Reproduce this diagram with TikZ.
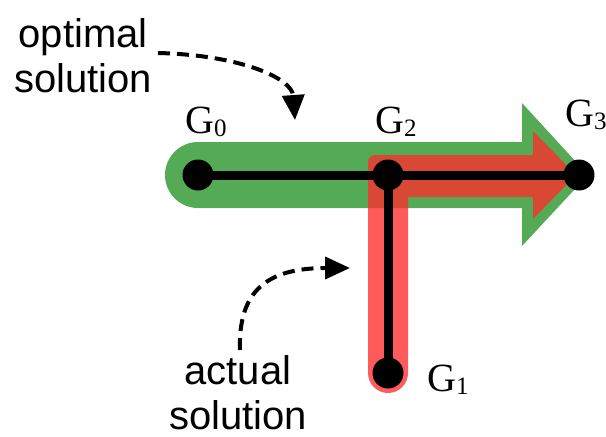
\documentclass[tikz,border=0pt]{standalone}
\usepackage{fontspec}
\setmainfont{Liberation Serif}
\newfontfamily\labelsans{Liberation Sans}
\usetikzlibrary{arrows.meta}
\definecolor{bandgreen}{RGB}{85,170,85}
\definecolor{bandred}{RGB}{255,45,45}
\tikzset{
  dotnode/.style={circle,fill=black,inner sep=0pt,minimum size=31pt},
  pathline/.style={line width=9pt,black},
  glabel/.style={inner sep=0pt,font=\fontsize{40}{42}\selectfont},
  note/.style={inner sep=0pt,align=center,font=\labelsans\fontsize{40}{45}\selectfont},
  pointer/.style={dash pattern=on 12pt off 7pt,line width=4pt,-{Triangle[length=25pt,width=22pt]}},
}
\newcommand{\gsub}[1]{G\raisebox{-3pt}{\fontsize{25}{25}\selectfont #1}}
\begin{document}
\begin{tikzpicture}[x=1pt,y=-1pt]
\useasboundingbox (0,0) rectangle (606,437);
% optimal solution band (green)
\fill[bandgreen] (198,142) -- (522,142) -- (522,103) -- (588,175) -- (522,246) -- (522,208) -- (198,208)
  arc[start angle=270,end angle=90,radius=33pt] -- cycle;
% actual solution band (red)
\fill[bandred,fill opacity=0.78] (368,373) -- (368,200) [rounded corners=7pt] -- (368,155) -- (450,155) [sharp corners]
  -- (533,155) -- (533,131) -- (576,175) -- (533,219) -- (533,197) -- (408,197) -- (408,373)
  arc[start angle=0,end angle=-180,radius=20pt] -- cycle;
% graph nodes
\node[dotnode] (g0) at (198,175) {};
\node[dotnode] (g2) at (388,175) {};
\node[dotnode] (g3) at (579,175) {};
\node[dotnode] (g1) at (388,373) {};
\draw[pathline] (g0.center) -- (g3.center);
\draw[pathline] (g2.center) -- (g1.center);
% labels
\node[glabel,anchor=base west] (l0) at (185,133) {\gsub{0}};
\node[glabel,anchor=base west] (l2) at (375,133) {\gsub{2}};
\node[glabel,anchor=base west] (l3) at (565,126) {\gsub{3}};
\node[glabel,anchor=base west] (l1) at (427,391) {\gsub{1}};
% annotations
\node[note,anchor=north] (opt) at (83,18) {optimal\\solution};
\node[note,anchor=north] (act) at (238,355) {actual\\solution};
\coordinate (optstart) at (158,53);
\coordinate (opttip) at (295,120);
\coordinate (actstart) at (240,350);
\coordinate (acttip) at (350,268);
\draw[pointer] (optstart) .. controls (240,55) and (292,78) .. (opttip);
\draw[pointer] (actstart) .. controls (238,290) and (268,268) .. (acttip);
\end{tikzpicture}
\end{document}
